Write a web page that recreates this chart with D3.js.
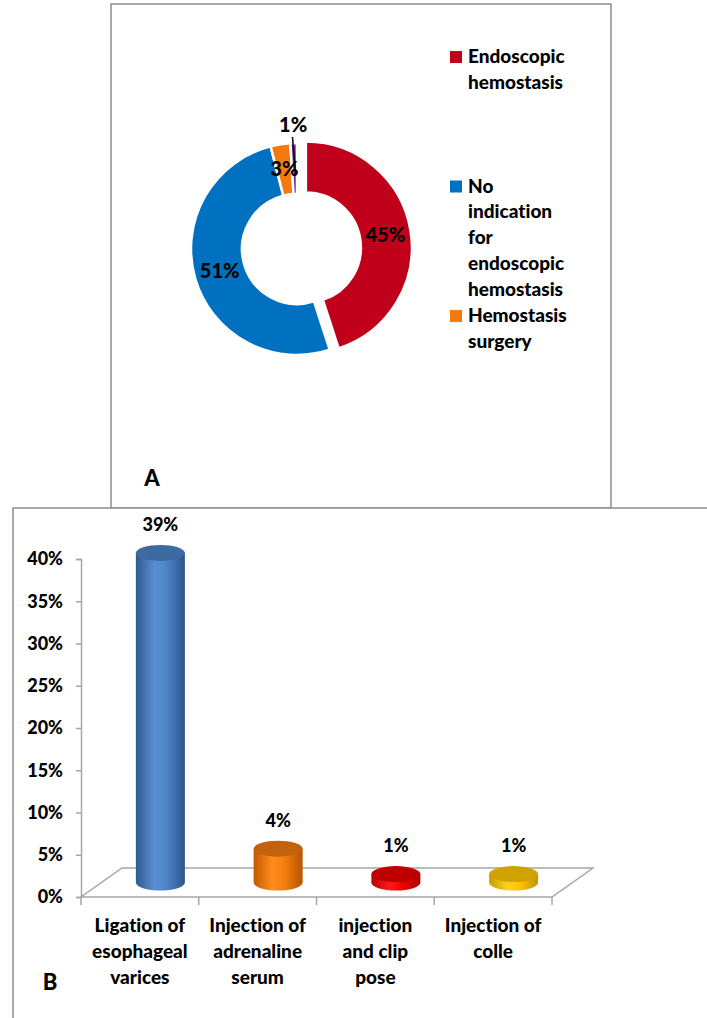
<!DOCTYPE html>
<html>
<head>
<meta charset="utf-8">
<script src="https://cdn.jsdelivr.net/npm/d3@7"></script>
<style>
  body { margin: 0; background: #fff; }
  text { font-family: Lato, "Open Sans", sans-serif; font-weight: 900; fill: #000; font-variant-ligatures: none; }
</style>
</head>
<body>
<div id="chart"></div>
<script>
// Panel A data
var pieNames = ["Endoscopic hemostasis", "No indication for endoscopic hemostasis", "Hemostasis surgery", "Other"];
var pieValues = [45, 51, 3, 1];
var pieColors = ["#C0001B", "#0070C0", "#F47A10", "#7030A0"];
var legendLines = [["Endoscopic", "hemostasis"], ["No", "indication", "for", "endoscopic", "hemostasis"], ["Hemostasis", "surgery"]];

// Panel B data
var barCategories = [["Ligation of", "esophageal", "varices"], ["Injection of", "adrenaline", "serum"], ["injection", "and clip", "pose"], ["Injection of", "colle"]];
var barValues = [39, 4, 1, 1];
var yTicks = [0, 5, 10, 15, 20, 25, 30, 35, 40];

var svgWidth = 707;
var svgHeight = 1018;

var svg = d3.select("#chart")
  .append("svg")
    .attr("width", svgWidth)
    .attr("height", svgHeight);

var defs = svg.append("defs");

// panel frames
svg.append("rect")
  .attr("x", 111).attr("y", 4)
  .attr("width", 500).attr("height", 504)
  .attr("fill", "none").attr("stroke", "#8C8C8C").attr("stroke-width", 1.5);

svg.append("rect")
  .attr("x", 13).attr("y", 508)
  .attr("width", 720).attr("height", 540)
  .attr("fill", "#fff").attr("stroke", "#8C8C8C").attr("stroke-width", 1.5);

// ---------- Panel A: donut ----------
var cx = 297, cy = 249;
var pieGroup = svg.append("g").attr("transform", `translate(${cx}, ${cy})`);

var pie = d3.pie().sort(null).value(d => d);
var arcs = pie(pieValues);
var arc = d3.arc().innerRadius(55).outerRadius(106);
var outerArc = d3.arc().innerRadius(124).outerRadius(124);

function explode(d, i) {
  if (i !== 0) return "translate(0,0)";
  var a = (d.startAngle + d.endAngle) / 2;
  return `translate(${9 * Math.sin(a)}, ${-9 * Math.cos(a)})`;
}

pieGroup.selectAll("path.slice")
  .data(arcs)
  .enter()
  .append("path")
    .attr("class", "slice")
    .attr("d", arc)
    .attr("fill", (d, i) => pieColors[i])
    .attr("stroke", "#fff")
    .attr("stroke-width", 2.5)
    .attr("transform", explode);

// leader line for the smallest slice
var small = arcs[3];
var sa = (small.startAngle + small.endAngle) / 2;
pieGroup.append("line")
  .attr("x1", 112 * Math.sin(sa) - 1).attr("y1", -112 * Math.cos(sa))
  .attr("x2", 75 * Math.sin(sa) + 1).attr("y2", -75 * Math.cos(sa))
  .attr("stroke", "#000").attr("stroke-width", 1.5);

pieGroup.selectAll("text.plabel")
  .data(arcs)
  .enter()
  .append("text")
    .attr("class", "plabel")
    .attr("transform", function(d, i) {
      var p = i === 3 ? outerArc.centroid(d) : arc.centroid(d);
      if (i === 0) {
        var a = (d.startAngle + d.endAngle) / 2;
        p = [p[0] + 9 * Math.sin(a), p[1] - 9 * Math.cos(a)];
      }
      return `translate(${p[0]}, ${p[1]})`;
    })
    .attr("text-anchor", "middle")
    .attr("dy", "0.35em")
    .attr("font-size", 20)
    .text(d => d.value + "%");

// legend
var legend = svg.append("g");
legendLines.forEach(function(lines, i) {
  var y0 = 63 + i * 129.5;
  legend.append("rect")
    .attr("x", 450).attr("y", y0 - 12)
    .attr("width", 12).attr("height", 12)
    .attr("fill", pieColors[i]);
  var t = legend.append("text")
    .attr("x", 468).attr("y", y0)
    .attr("font-size", 19);
  lines.forEach(function(line, j) {
    t.append("tspan")
      .attr("x", 468)
      .attr("dy", j === 0 ? 0 : 25.8)
      .text(line);
  });
});

svg.append("text")
  .attr("x", 152).attr("y", 486)
  .attr("text-anchor", "middle")
  .attr("font-size", 22)
  .text("A");

// ---------- Panel B: 3D cylinders ----------
var depthX = 41, depthY = -29;

var xScale = d3.scaleBand()
  .domain(d3.range(barValues.length))
  .range([81, 552])
  .padding(0);

var yScale = d3.scaleLinear()
  .domain([0, 40])
  .range([897, 559]);

// floor
var x0 = xScale.range()[0], x1 = xScale.range()[1], yf = yScale(0);
svg.append("path")
  .attr("d", `M${x0},${yf} L${x1},${yf} L${x1 + depthX},${yf + depthY} L${x0 + depthX},${yf + depthY} Z`)
  .attr("fill", "none")
  .attr("stroke", "#A6A6A6")
  .attr("stroke-width", 1.5);

// y axis
var leftAxis = d3.axisLeft(yScale)
  .tickValues(yTicks)
  .tickSize(5)
  .tickPadding(13)
  .tickFormat(d => d + "%");

var yAxisG = svg.append("g")
  .attr("transform", `translate(${x0}, 0)`)
  .call(leftAxis);
yAxisG.select(".domain").attr("stroke", "#A6A6A6").attr("stroke-width", 1.5);
yAxisG.selectAll(".tick line").attr("stroke", "#A6A6A6").attr("stroke-width", 1.5);
yAxisG.selectAll(".tick text")
  .attr("font-size", 18)
  .attr("font-family", "Lato, sans-serif")
  .attr("font-weight", 900)
  .attr("fill", "#000");

// x axis boundary ticks
var bounds = d3.range(barValues.length + 1).map(i => i < barValues.length ? xScale(i) : x1);
svg.selectAll("line.xtick")
  .data(bounds)
  .enter()
  .append("line")
    .attr("class", "xtick")
    .attr("x1", d => d).attr("x2", d => d)
    .attr("y1", yf).attr("y2", yf + 8)
    .attr("stroke", "#A6A6A6").attr("stroke-width", 1.5);

// category labels
barCategories.forEach(function(lines, i) {
  var t = svg.append("text")
    .attr("x", xScale(i) + xScale.bandwidth() / 2)
    .attr("y", 932)
    .attr("text-anchor", "middle")
    .attr("font-size", 19);
  lines.forEach(function(line, j) {
    t.append("tspan")
      .attr("x", xScale(i) + xScale.bandwidth() / 2)
      .attr("dy", j === 0 ? 0 : 26)
      .text(line);
  });
});

// cylinder gradients
var barShades = [
  { body: ["#2F5A8E", "#5A8ED2", "#4F86CA", "#2B548A"], top: "#3D6AA3" },
  { body: ["#C05A00", "#FF8C1C", "#F57F0E", "#B85400"], top: "#C2620C" },
  { body: ["#B80000", "#FF1A1A", "#F20000", "#A80000"], top: "#C00000" },
  { body: ["#C99A00", "#FFD21F", "#FFC400", "#C29200"], top: "#CFA200" }
];

barShades.forEach(function(s, i) {
  var g = defs.append("linearGradient")
    .attr("id", "cyl" + i)
    .attr("x1", "0%").attr("x2", "100%").attr("y1", "0%").attr("y2", "0%");
  [0, 0.38, 0.62, 1].forEach(function(o, k) {
    g.append("stop").attr("offset", o).attr("stop-color", s.body[k]);
  });
});

var rx = 24.5, ry = 8;
var bars = svg.selectAll("g.cyl")
  .data(barValues)
  .enter()
  .append("g")
    .attr("class", "cyl");

bars.append("path")
  .attr("d", function(d, i) {
    var c = xScale(i) + xScale.bandwidth() / 2 + depthX / 2;
    var yb = yScale(0) + depthY / 2;
    var yt = yScale(d) + depthY / 2;
    return `M${c - rx},${yt} L${c - rx},${yb} A${rx},${ry} 0 0 0 ${c + rx},${yb} L${c + rx},${yt} Z`;
  })
  .attr("fill", (d, i) => `url(#cyl${i})`);

bars.append("ellipse")
  .attr("cx", (d, i) => xScale(i) + xScale.bandwidth() / 2 + depthX / 2)
  .attr("cy", d => yScale(d) + depthY / 2)
  .attr("rx", rx).attr("ry", ry)
  .attr("fill", (d, i) => barShades[i].top);

bars.append("text")
  .attr("x", (d, i) => xScale(i) + xScale.bandwidth() / 2 + depthX / 2)
  .attr("y", d => yScale(d) + depthY / 2 - 22)
  .attr("text-anchor", "middle")
  .attr("font-size", 18)
  .text(d => d + "%");

svg.append("text")
  .attr("x", 50).attr("y", 990)
  .attr("text-anchor", "middle")
  .attr("font-size", 22)
  .text("B");
</script>
</body>
</html>
